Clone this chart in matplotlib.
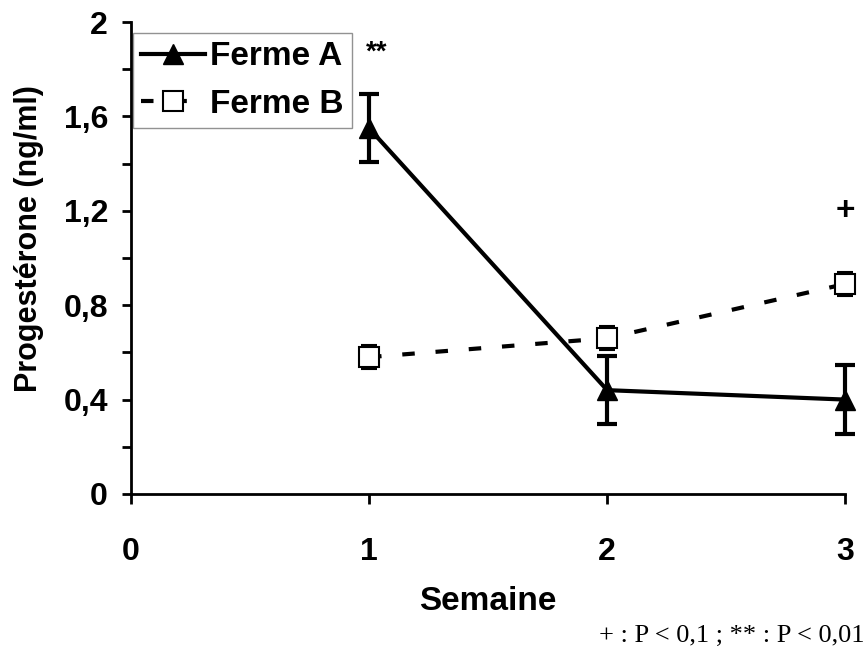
import matplotlib.pyplot as plt
from matplotlib.lines import Line2D
from matplotlib.ticker import MultipleLocator, FuncFormatter

# Progesterone (ng/ml) per week, two farms
semaines = [1, 2, 3]
ferme_a = [1.55, 0.44, 0.40]
ferme_a_err = [0.145, 0.145, 0.145]
ferme_b = [0.58, 0.66, 0.89]
ferme_b_err = [0.05, 0.05, 0.05]

plt.rcParams['font.family'] = ['Liberation Sans', 'DejaVu Sans']
plt.rcParams['font.weight'] = 'bold'

B_DASH = (0, (3, 5))


def main():
    fig = plt.figure(figsize=(8.67, 6.59), dpi=100)
    ax = fig.add_axes([0.151, 0.2504, 0.824, 0.7162])

    # Ferme A: solid line, filled triangles
    ax.errorbar(semaines, ferme_a, yerr=ferme_a_err, color="black", linewidth=3,
                elinewidth=3, capsize=7, capthick=3, marker="^", markersize=15,
                clip_on=False, zorder=3)
    # Ferme B: dashed line, open squares
    ax.errorbar(semaines, ferme_b, yerr=ferme_b_err, color="black", linewidth=3,
                linestyle=B_DASH, elinewidth=3, capsize=6, capthick=4,
                marker="s", markersize=14, markerfacecolor="white",
                markeredgecolor="black", markeredgewidth=1.5,
                clip_on=False, zorder=4)

    ax.set_xlim(0, 3)
    ax.set_ylim(0, 2)
    ax.xaxis.set_major_locator(MultipleLocator(1))
    ax.yaxis.set_major_locator(MultipleLocator(0.4))
    ax.yaxis.set_minor_locator(MultipleLocator(0.2))
    ax.yaxis.set_major_formatter(FuncFormatter(lambda v, p: f"{v:g}".replace(".", ",")))

    for side in ("top", "right"):
        ax.spines[side].set_visible(False)
    for side in ("left", "bottom"):
        ax.spines[side].set_linewidth(2)
    ax.tick_params(axis="both", which="both", direction="out", width=2, labelsize=23)
    ax.tick_params(axis="y", which="both", length=6.5, pad=10)
    ax.tick_params(axis="x", which="major", length=7, pad=24)

    ax.set_xlabel("Semaine", fontsize=24, fontweight="bold")
    ax.xaxis.set_label_coords(0.499, -0.195)
    ax.set_ylabel("Progestérone (ng/ml)", fontsize=22, fontweight="bold",
                  va="center", ha="center")
    ax.yaxis.set_label_coords(-0.143, 0.542)

    # Significance marks
    ax.text(1.03, 1.87, "**", fontsize=20, fontweight="bold", ha="center", va="center")
    ax.text(3.0, 1.195, "+", fontsize=24, fontweight="bold", ha="center", va="center")

    handles = [
        Line2D([], [], color="black", linewidth=3, marker="^", markersize=15),
        Line2D([], [], color="black", linewidth=3, linestyle=B_DASH, marker="s",
               markersize=14, markerfacecolor="white", markeredgewidth=1.5),
    ]
    leg = ax.legend(handles, ["Ferme A", "Ferme B"], loc="upper left",
                    bbox_to_anchor=(0.003, 0.977), fontsize=24,
                    frameon=True, fancybox=False, handlelength=1.9,
                    handletextpad=0.15, borderpad=0.25, labelspacing=0.5,
                    borderaxespad=0.0)
    leg.get_frame().set_edgecolor("#777777")
    leg.get_frame().set_linewidth(1)
    leg.set_zorder(2)

    fig.text(0.997, 0.035, "+ : P < 0,1 ; ** : P < 0,01", ha="right", va="center",
             fontsize=19, family="Liberation Serif", fontweight="normal")

    fig.savefig("out.png", dpi=100)


if __name__ == "__main__":
    main()
